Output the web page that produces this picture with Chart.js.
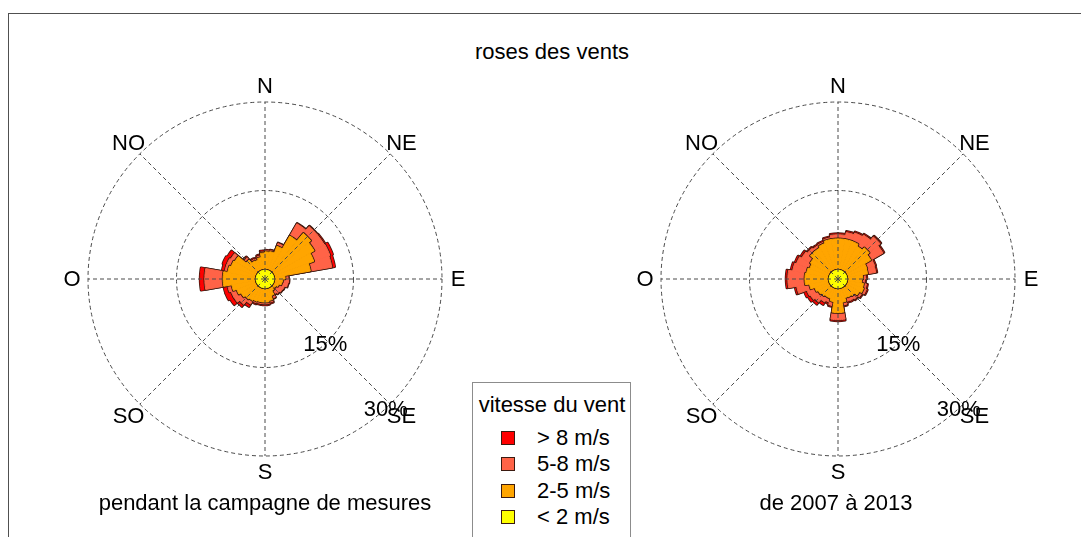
<!DOCTYPE html>
<html>
<head>
<meta charset="utf-8">
<script src="https://cdn.jsdelivr.net/npm/chart.js@4.4.1/dist/chart.umd.min.js"></script>
<style>
html,body{margin:0;padding:0;background:#fff;}
body{width:1081px;height:537px;position:relative;overflow:hidden;font-family:"Liberation Sans",Arial,Helvetica,sans-serif;color:#000;}
.frame{position:absolute;left:8px;top:13px;width:1090px;height:600px;border-left:1px solid #505050;border-top:1px solid #505050;}
.t{position:absolute;font-size:22px;line-height:26px;height:26px;white-space:nowrap;transform:translateX(-50%);}
.tl{position:absolute;font-size:22px;line-height:26px;height:26px;white-space:nowrap;}
canvas{position:absolute;}
.legend{position:absolute;left:472px;top:382px;width:157px;height:220px;border:1px solid #8c8c8c;background:#fff;}
.sw{position:absolute;width:12px;height:12px;border:1px solid #3a1a10;}
</style>
</head>
<body>
<div class="frame"></div>
<div class="t" style="left:552px;top:39px;">roses des vents</div>
<canvas id="roseA" width="440" height="440" style="left:45px;top:59px;"></canvas>
<canvas id="roseB" width="440" height="440" style="left:618px;top:59px;"></canvas>
<div class="t" style="left:265px;top:490px;">pendant la campagne de mesures</div>
<div class="t" style="left:836px;top:490px;">de 2007 à 2013</div>
<div class="legend" id="legend"></div>
<script>
// ---- categories / labels ----
const sectors = ['0°','10°','20°','30°','40°','50°','60°','70°','80°','90°','100°','110°',
  '120°','130°','140°','150°','160°','170°','180°','190°','200°','210°','220°','230°',
  '240°','250°','260°','270°','280°','290°','300°','310°','320°','330°','340°','350°'];
const directions = ['N','NE','E','SE','S','SO','O','NO'];
const ringTicks = [15, 30];
const speedClasses = ['> 8 m/s','5-8 m/s','2-5 m/s','< 2 m/s'];
const classColors = ['#ff0000','#ff6347','#ffa500','#ffff00'];
const outlineColor = '#3d1a10';

// ---- pendant la campagne de mesures (% per sector and class) ----
const campLt2 = [1.5,1.5,1.5,1.5,1.5,1.5,1.5,1.5,1.5,1.5,1.5,1.5,1.5,1.5,1.5,1.5,1.5,1.5,
                 1.5,1.5,1.5,1.5,1.5,1.5,1.5,1.5,1.5,1.5,1.5,1.5,1.5,1.5,1.5,1.5,1.5,1.5];
const camp2to5 = [3.1,3.2,4.4,6.9,8.6,8.1,7.3,6.3,1.9,1.5,1.4,1.0,0.7,0.5,0.8,1.5,2.2,2.4,
                  2.4,2.4,2.5,2.7,2.9,3.2,3.6,4.2,5.6,5.6,4.9,4.6,4.4,2.7,2.0,1.9,2.2,2.9];
const camp5to8 = [0.2,0.2,0.5,2.4,1.5,2.0,2.9,3.7,0.5,1.0,1.0,1.0,1.2,1.2,0.7,0.5,0.3,0.3,
                  0.3,0.3,0.3,0.7,1.2,1.4,1.0,0.7,3.1,3.1,0.5,0.8,0.8,0.5,0.3,0.3,0.3,0.2];
const campGt8 = [0.1,0.1,0.1,0.1,0.1,0.2,0.5,0.5,0.1,0.1,0.1,0.1,0.1,0.1,0.1,0.1,0.2,0.2,
                 0.2,0.2,0.2,0.5,0.5,0.7,1.0,0.7,0.8,0.8,0.5,0.7,0.7,0.2,0.2,0.2,0.2,0.2];

// ---- de 2007 à 2013 ----
const histLt2 = [1.5,1.5,1.5,1.5,1.5,1.5,1.5,1.5,1.5,1.5,1.5,1.5,1.5,1.5,1.5,1.5,1.5,1.5,
                 1.5,1.5,1.5,1.5,1.5,1.5,1.5,1.5,1.5,1.5,1.5,1.5,1.5,1.5,1.5,1.5,1.5,1.5];
const hist2to5 = [5.3,5.3,5.3,4.9,5.4,4.9,3.7,3.6,2.7,2.5,2.9,3.1,2.7,2.2,2.0,1.9,2.5,4.2,
                  4.2,2.4,2.0,2.0,2.2,2.4,2.7,3.4,4.1,4.1,3.9,3.6,3.9,4.6,4.6,4.9,5.3,5.3];
const hist5to8 = [0.7,1.2,1.5,2.2,2.4,2.4,1.4,1.4,0.5,0.5,0.5,0.5,0.5,0.7,0.7,0.7,0.5,1.2,
                  1.2,0.7,0.7,1.0,1.4,1.5,1.4,2.2,2.9,2.9,2.4,2.4,1.7,0.7,0.5,0.3,0.3,0.7];
const histGt8 = [0.2,0.2,0.2,0.2,0.2,0.2,0.2,0.2,0.2,0.2,0.2,0.2,0.2,0.2,0.2,0.2,0.2,0.2,
                 0.2,0.2,0.3,0.5,0.5,0.5,0.5,0.3,0.3,0.3,0.3,0.3,0.3,0.2,0.2,0.2,0.2,0.2];

const FONT = '22px "Liberation Sans", Arial, Helvetica, sans-serif';

const roseGrid = {
  id: 'roseGrid',
  afterDatasetsDraw(chart) {
    const s = chart.scales.r, ctx = chart.ctx;
    const cx = s.xCenter, cy = s.yCenter;
    ctx.save();
    ctx.strokeStyle = '#4a4a4a';
    ctx.lineWidth = 1;
    ctx.setLineDash([4, 3]);
    ringTicks.forEach(v => {
      ctx.beginPath();
      ctx.arc(cx, cy, s.getDistanceFromCenterForValue(v), 0, 2 * Math.PI);
      ctx.stroke();
    });
    const rMax = s.getDistanceFromCenterForValue(ringTicks[ringTicks.length - 1]);
    directions.forEach((d, k) => {
      const a = k * Math.PI / 4;
      ctx.beginPath();
      ctx.moveTo(cx, cy);
      ctx.lineTo(cx + rMax * Math.sin(a), cy - rMax * Math.cos(a));
      ctx.stroke();
    });
    ctx.setLineDash([]);
    ctx.fillStyle = '#000';
    ctx.font = FONT;
    ctx.textAlign = 'center';
    ctx.textBaseline = 'middle';
    const rl = rMax + 16;
    directions.forEach((d, k) => {
      const a = k * Math.PI / 4;
      ctx.fillText(d, cx + rl * Math.sin(a), cy - rl * Math.cos(a) + 1);
    });
    const la = 137 * Math.PI / 180;
    ringTicks.forEach(v => {
      const r = s.getDistanceFromCenterForValue(v);
      ctx.fillText(v + '%', cx + r * Math.sin(la), cy - r * Math.cos(la) + 1);
    });
    ctx.restore();
  }
};

function makeRose(id, lt2, c25, c58, gt8) {
  const l1 = lt2.slice();
  const l2 = l1.map((v, i) => v + c25[i]);
  const l3 = l2.map((v, i) => v + c58[i]);
  const l4 = l3.map((v, i) => v + gt8[i]);
  const layers = [[l1, classColors[3]], [l2, classColors[2]], [l3, classColors[1]], [l4, classColors[0]]];
  const datasets = [];
  layers.forEach(([d, col]) => {
    datasets.push({ data: d, backgroundColor: col, borderColor: col, borderWidth: 1 });
    datasets.push({ data: d, backgroundColor: outlineColor, borderColor: outlineColor, borderWidth: 2.6, borderJoinStyle: 'round' });
  });
  new Chart(document.getElementById(id), {
    type: 'polarArea',
    data: { labels: sectors, datasets },
    options: {
      responsive: false,
      animation: false,
      events: [],
      layout: { padding: 43 },
      plugins: { legend: { display: false }, tooltip: { enabled: false } },
      scales: {
        r: {
          min: 0, max: 30,
          ticks: { display: false },
          grid: { display: false },
          angleLines: { display: false },
          pointLabels: { display: false }
        }
      }
    },
    plugins: [roseGrid]
  });
}

makeRose('roseA', campLt2, camp2to5, camp5to8, campGt8);
makeRose('roseB', histLt2, hist2to5, hist5to8, histGt8);

// legend
const lg = document.getElementById('legend');
const ttl = document.createElement('div');
ttl.className = 't';
ttl.style.left = '79px'; ttl.style.top = '9px';
ttl.textContent = 'vitesse du vent';
lg.appendChild(ttl);
speedClasses.forEach((lab, i) => {
  const y = 55 + i * 26.3;
  const sw = document.createElement('div');
  sw.className = 'sw';
  sw.style.left = '28px'; sw.style.top = (y - 7) + 'px';
  sw.style.background = classColors[i];
  lg.appendChild(sw);
  const tx = document.createElement('div');
  tx.className = 'tl';
  tx.style.left = '64px'; tx.style.top = (y - 13) + 'px';
  tx.textContent = lab;
  lg.appendChild(tx);
});
</script>
</body>
</html>
